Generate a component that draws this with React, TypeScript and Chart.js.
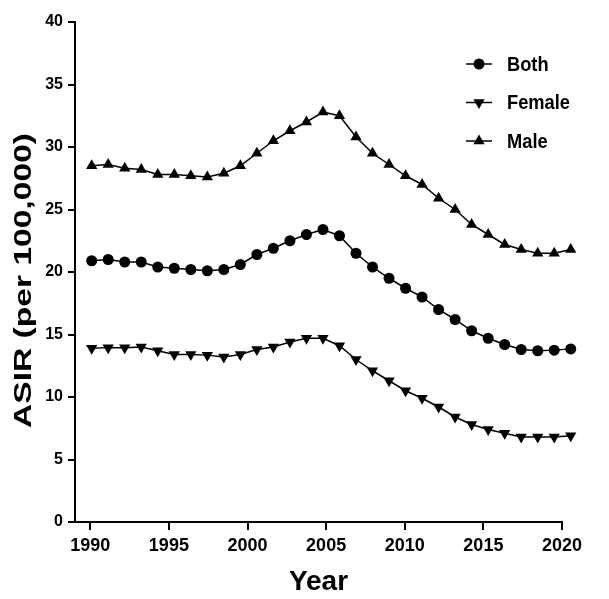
import React, { useEffect, useRef } from 'react';
import { Chart, registerables } from 'chart.js';

Chart.register(...registerables);

const years = [1990, 1991, 1992, 1993, 1994, 1995, 1996, 1997, 1998, 1999, 2000, 2001, 2002, 2003, 2004, 2005, 2006, 2007, 2008, 2009, 2010, 2011, 2012, 2013, 2014, 2015, 2016, 2017, 2018, 2019];
const both = [20.9, 21.0, 20.8, 20.8, 20.4, 20.3, 20.2, 20.1, 20.2, 20.6, 21.4, 21.9, 22.5, 23.0, 23.4, 22.9, 21.5, 20.4, 19.5, 18.7, 18.0, 17.0, 16.2, 15.3, 14.7, 14.2, 13.8, 13.7, 13.75, 13.85];
const female = [13.9, 13.95, 13.95, 14.0, 13.7, 13.4, 13.4, 13.35, 13.2, 13.4, 13.8, 14.0, 14.4, 14.7, 14.7, 14.1, 13.0, 12.1, 11.3, 10.5, 9.9, 9.2, 8.4, 7.8, 7.4, 7.1, 6.8, 6.8, 6.8, 6.9];
const male = [28.5, 28.6, 28.3, 28.2, 27.8, 27.8, 27.7, 27.6, 27.9, 28.5, 29.5, 30.5, 31.3, 32.0, 32.8, 32.5, 30.8, 29.5, 28.6, 27.7, 27.0, 25.9, 25.0, 23.8, 23.0, 22.2, 21.8, 21.5, 21.5, 21.8];
const xTickValues = [1990, 1995, 2000, 2005, 2010, 2015, 2020];
const yTickValues = [0, 5, 10, 15, 20, 25, 30, 35, 40];
const seriesNames = ['Both', 'Female', 'Male'];
const xTitle = 'Year';
const yTitle = 'ASIR (per 100,000)';

const FONT = "'Liberation Sans', Arial, Helvetica, sans-serif";

function drawMarker(ctx: CanvasRenderingContext2D, kind: string, x: number, y: number, r: number) {
  ctx.beginPath();
  if (kind === 'circle') {
    ctx.arc(x, y, r, 0, Math.PI * 2);
  } else {
    const dir = kind === 'up' ? 1 : -1;
    for (let k = 0; k < 3; k++) {
      const a = (k * 2 * Math.PI) / 3;
      const px = x + Math.sin(a) * r;
      const py = y - dir * Math.cos(a) * r;
      if (k === 0) ctx.moveTo(px, py);
      else ctx.lineTo(px, py);
    }
    ctx.closePath();
  }
  ctx.fill();
}

// lets the last markers (which sit just past the end of the x axis line) be drawn
const overflowPlugin = {
  id: 'overflowPoints',
  beforeDatasetsDraw(chart: any) {
    chart.chartArea.right += 20;
  },
  afterDatasetsDraw(chart: any) {
    chart.chartArea.right -= 20;
  },
};

const textPlugin = {
  id: 'customTexts',
  afterDraw(chart: any) {
    const ctx: CanvasRenderingContext2D = chart.ctx;
    const { right, top, bottom } = chart.chartArea;
    const kinds = ['circle', 'down', 'up'];
    ctx.save();
    ctx.fillStyle = '#000';
    ctx.strokeStyle = '#000';
    ctx.lineWidth = 1.5;
    // legend
    seriesNames.forEach((name, i) => {
      const y = top + 42 + i * 38.5;
      const x0 = right - 96;
      const x1 = right - 70;
      ctx.beginPath();
      ctx.moveTo(x0, y);
      ctx.lineTo(x1, y);
      ctx.stroke();
      drawMarker(ctx, kinds[i], (x0 + x1) / 2, y, kinds[i] === 'circle' ? 5.5 : 6.5);
      ctx.save();
      ctx.font = `bold 21px ${FONT}`;
      ctx.textAlign = 'left';
      ctx.textBaseline = 'middle';
      ctx.translate(right - 55, y + 1);
      ctx.scale(0.87, 1);
      ctx.fillText(name, 0, 0);
      ctx.restore();
    });
    // y axis title
    ctx.save();
    ctx.font = `bold 24px ${FONT}`;
    ctx.textAlign = 'center';
    ctx.textBaseline = 'middle';
    const w = ctx.measureText(yTitle).width;
    ctx.translate(24, top + (bottom - top) * 0.517);
    ctx.rotate(-Math.PI / 2);
    ctx.scale(295 / w, 1);
    ctx.fillText(yTitle, 0, 0);
    ctx.restore();
    ctx.restore();
  },
};

export default function App() {
  const ref = useRef<HTMLCanvasElement | null>(null);

  useEffect(() => {
    if (!ref.current) return;
    const mk = (vals: number[]) => years.map((x, i) => ({ x, y: vals[i] }));
    const common = {
      xAxisID: 'x',
      yAxisID: 'y',
      borderColor: '#000',
      backgroundColor: '#000',
      borderWidth: 1.5,
      pointBorderWidth: 0,
      pointBackgroundColor: '#000',
      tension: 0,
      clip: false as any,
    };
    const chart = new Chart(ref.current, {
      type: 'line',
      data: {
        datasets: [
          { ...common, label: seriesNames[0], data: mk(both), pointStyle: 'circle', pointRadius: 5.5 },
          { ...common, label: seriesNames[1], data: mk(female), pointStyle: 'triangle', pointRotation: 180, pointRadius: 6.5 },
          { ...common, label: seriesNames[2], data: mk(male), pointStyle: 'triangle', pointRadius: 6.5 },
        ] as any,
      },
      options: {
        responsive: false,
        animation: false,
        layout: { padding: { top: 22, right: 47, left: 0, bottom: 0 } },
        plugins: { legend: { display: false }, tooltip: { enabled: false } },
        scales: {
          x: { type: 'linear', display: false, min: 1988.99, max: 2018.47 },
          x2: {
            type: 'linear',
            position: 'bottom',
            min: 1989.03,
            max: 2020,
            afterBuildTicks: (s: any) => {
              s.ticks = xTickValues.map((v) => ({ value: v }));
            },
            afterFit: (s: any) => {
              s.height = 77;
            },
            ticks: {
              callback: (v: any) => String(v),
              font: { family: FONT, size: 18, weight: 'bold' },
              color: '#000',
              padding: 5,
              maxRotation: 0,
              autoSkip: false,
            },
            grid: { display: true, drawOnChartArea: false, drawTicks: true, tickLength: 8, color: '#000', lineWidth: 2 },
            border: { display: true, color: '#000', width: 2 },
            title: {
              display: true,
              text: xTitle,
              color: '#000',
              font: { family: FONT, size: 28, weight: 'bold' },
              padding: { top: 0, bottom: 0 },
            },
          } as any,
          y: {
            type: 'linear',
            min: 0,
            max: 40,
            afterBuildTicks: (s: any) => {
              s.ticks = yTickValues.map((v) => ({ value: v }));
            },
            afterFit: (s: any) => {
              s.width = 75;
            },
            ticks: {
              font: { family: FONT, size: 16, weight: 'bold' },
              color: '#000',
              padding: 5,
            },
            grid: { display: true, drawOnChartArea: false, drawTicks: true, tickLength: 7, color: '#000', lineWidth: 2 },
            border: { display: true, color: '#000', width: 2 },
            title: { display: false, text: yTitle },
          } as any,
        },
      },
      plugins: [overflowPlugin, textPlugin],
    });
    return () => chart.destroy();
  }, []);

  return (
    <div style={{ position: 'fixed', left: 0, top: 0, width: 609, height: 599, background: '#fff' }}>
      <canvas ref={ref} width={609} height={599} style={{ width: 609, height: 599, display: 'block' }} />
    </div>
  );
}
